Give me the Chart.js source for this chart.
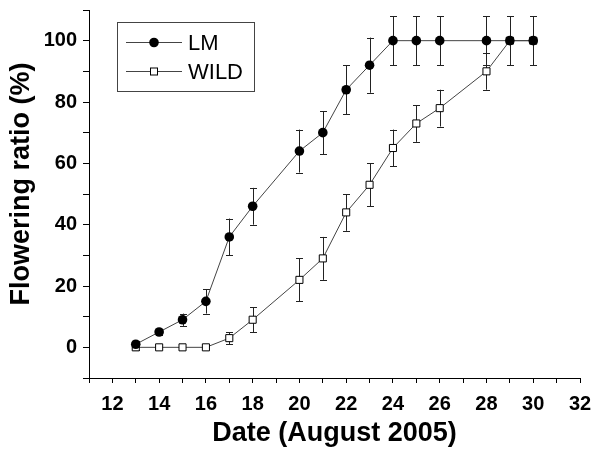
<!DOCTYPE html>
<html>
<head>
<meta charset="utf-8">
<script src="https://cdn.jsdelivr.net/npm/chart.js@4"></script>
<style>
  html, body { margin: 0; padding: 0; background: #fff; }
  #wrap { width: 596px; height: 450px; position: relative; }
</style>
</head>
<body>
<div id="wrap"><canvas id="c" width="596" height="450"></canvas></div>
<script>
// ---- data ----
const dates   = [13, 14, 15, 16, 17, 18, 20, 21, 22, 23, 24, 25, 26, 28, 29, 30];
const lmValues   = [1, 5, 9, 15, 36, 46, 64, 70, 84, 92, 100, 100, 100, 100, 100, 100];
const lmErrors   = [1, 1, 2, 4, 6, 6, 7, 7, 8, 9, 8, 8, 8, 8, 8, 8];
const wildValues = [0, 0, 0, 0, 3, 9, 22, 29, 44, 53, 65, 73, 78, 90, 100, 100];
const wildErrors = [1, 0, 0, 0, 2, 4, 7, 7, 6, 7, 6, 6, 6, 6, 8, 8];
const seriesNames = ['LM', 'WILD'];
const xTickLabels = [12, 14, 16, 18, 20, 22, 24, 26, 28, 30, 32];
const yTickLabels = [0, 20, 40, 60, 80, 100];
const xTitle = 'Date (August 2005)';
const yTitle = 'Flowering ratio (%)';

const FONT = '"Liberation Sans", Arial, Helvetica, sans-serif';

const toPoints = (vals) => dates.map((d, i) => ({ x: d, y: vals[i] }));

const errorBars = {
  id: 'errorBars',
  beforeDatasetsDraw(chart) {
    const { ctx, scales: { x, y } } = chart;
    const errs = [lmErrors, wildErrors];
    ctx.save();
    ctx.strokeStyle = '#222';
    ctx.lineWidth = 1;
    chart.data.datasets.forEach((ds, di) => {
      ds.data.forEach((p, i) => {
        const e = errs[di][i];
        if (!e) return;
        const px = Math.round(x.getPixelForValue(p.x)) + 0.5;
        const top = y.getPixelForValue(p.y + e);
        const bot = y.getPixelForValue(p.y - e);
        ctx.beginPath();
        ctx.moveTo(px, top); ctx.lineTo(px, bot);
        ctx.moveTo(px - 3.5, Math.round(top) + 0.5); ctx.lineTo(px + 3.5, Math.round(top) + 0.5);
        ctx.moveTo(px - 3.5, Math.round(bot) + 0.5); ctx.lineTo(px + 3.5, Math.round(bot) + 0.5);
        ctx.stroke();
      });
    });
    ctx.restore();
  }
};

const customText = {
  id: 'customText',
  afterDraw(chart) {
    const { ctx } = chart;
    ctx.save();
    // y axis title
    ctx.translate(22, 184);
    ctx.rotate(-Math.PI / 2);
    ctx.font = 'bold 27px ' + FONT;
    ctx.fillStyle = '#000';
    ctx.textAlign = 'center';
    ctx.textBaseline = 'middle';
    ctx.fillText(yTitle, 0, 0);
    ctx.restore();

    // legend
    ctx.save();
    const bx = 117, by = 22, bw = 137, bh = 69;
    ctx.strokeStyle = '#444';
    ctx.lineWidth = 1;
    ctx.strokeRect(bx + 0.5, by + 0.5, bw, bh);
    const rows = [42.5, 71.5];
    chart.data.datasets.forEach((ds, i) => {
      const ry = rows[i];
      ctx.strokeStyle = '#444';
      ctx.lineWidth = 1;
      ctx.beginPath();
      ctx.moveTo(126, ry); ctx.lineTo(182, ry);
      ctx.stroke();
      if (i === 0) {
        ctx.fillStyle = '#000';
        ctx.beginPath();
        ctx.arc(154, ry, 4.8, 0, Math.PI * 2);
        ctx.fill();
      } else {
        ctx.fillStyle = '#fff';
        ctx.strokeStyle = '#000';
        ctx.fillRect(150.5, ry - 3.5, 7, 7);
        ctx.strokeRect(150.5, ry - 3.5, 7, 7);
      }
      ctx.fillStyle = '#000';
      ctx.font = '22px ' + FONT;
      ctx.textAlign = 'left';
      ctx.textBaseline = 'middle';
      ctx.fillText(ds.label, 188, ry + 1);
    });
    ctx.restore();
  }
};

new Chart(document.getElementById('c'), {
  type: 'line',
  data: {
    datasets: [
      {
        label: seriesNames[0],
        data: toPoints(lmValues),
        borderColor: '#444',
        borderWidth: 1,
        pointStyle: 'circle',
        pointRadius: 4.8,
        pointBackgroundColor: '#000',
        pointBorderColor: '#000',
        pointBorderWidth: 0,
        tension: 0
      },
      {
        label: seriesNames[1],
        data: toPoints(wildValues),
        borderColor: '#444',
        borderWidth: 1,
        pointStyle: 'rect',
        pointRadius: 5,
        pointBackgroundColor: '#fff',
        pointBorderColor: '#000',
        pointBorderWidth: 1,
        tension: 0
      }
    ]
  },
  options: {
    responsive: false,
    animation: false,
    events: [],
    layout: { padding: { top: 10, right: 16, left: 0, bottom: 0 } },
    plugins: { legend: { display: false }, tooltip: { enabled: false } },
    scales: {
      x: {
        type: 'linear',
        min: 11, max: 32,
        afterFit(s) { s.height = 72; s.paddingLeft = 0; s.paddingRight = 0; },
        border: { display: true, color: '#000', width: 1 },
        grid: { drawOnChartArea: false, drawTicks: true, tickLength: 5, color: '#000' },
        ticks: {
          stepSize: 1,
          autoSkip: false,
          maxRotation: 0,
          padding: 9,
          color: '#000',
          font: { family: FONT, size: 20, weight: 'bold' },
          callback: (v) => xTickLabels.includes(v) ? String(v) : ''
        },
        title: {
          display: true,
          text: xTitle,
          color: '#000',
          font: { family: FONT, size: 27, weight: 'bold' },
          padding: { top: 0, bottom: 0 }
        }
      },
      y: {
        type: 'linear',
        min: -10, max: 110,
        afterFit(s) { s.width = 89; s.paddingTop = 0; s.paddingBottom = 0; },
        border: { display: true, color: '#000', width: 1 },
        grid: { drawOnChartArea: false, drawTicks: true, tickLength: 6, color: '#000' },
        ticks: {
          stepSize: 10,
          autoSkip: false,
          padding: 6,
          color: '#000',
          font: { family: FONT, size: 20, weight: 'bold' },
          callback: (v) => yTickLabels.includes(v) ? String(v) : ''
        },
        title: { display: false }
      }
    }
  },
  plugins: [errorBars, customText]
});
</script>
</body>
</html>
